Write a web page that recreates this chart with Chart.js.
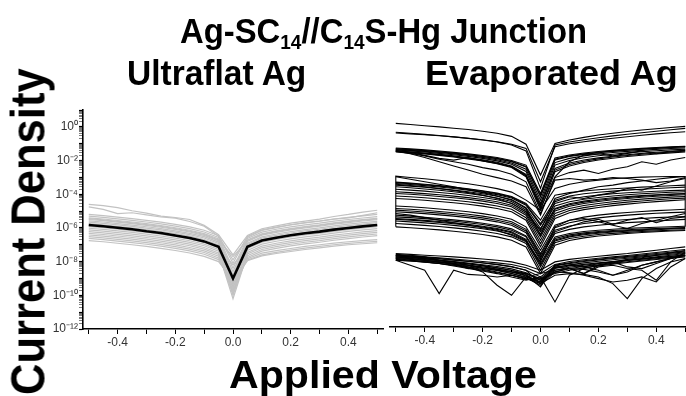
<!DOCTYPE html>
<html>
<head>
<meta charset="utf-8">
<script src="https://cdn.jsdelivr.net/npm/chart.js"></script>
<style>
  html, body { margin: 0; padding: 0; width: 686px; height: 396px; overflow: hidden; background: #fff; }
  canvas { position: absolute; left: 0; top: 0; }
  .lbl {
    position: absolute; left: 0; top: 0;
    font-family: 'Liberation Sans', Arial, Helvetica, sans-serif;
    font-weight: bold; color: #000; white-space: nowrap; line-height: 1;
    transform-origin: 0 0;
  }
  .lbl sub { font-size: 0.58em; vertical-align: -0.3em; line-height: 0; }
</style>
</head>
<body>
<canvas id="flat" width="686" height="396"></canvas>
<canvas id="evap" width="720" height="396"></canvas>

<div class="lbl" id="mainTitle">Ag-SC<sub>14</sub>//C<sub>14</sub>S-Hg Junction</div>
<div class="lbl" id="flatTitle">Ultraflat Ag</div>
<div class="lbl" id="evapTitle">Evaporated Ag</div>
<div class="lbl" id="xTitle">Applied Voltage</div>
<div class="lbl" id="yTitle">Current Density</div>

<script>
const FONT = "'Liberation Sans', Arial, Helvetica, sans-serif";

// Bias voltages (V) of every J(V) sweep
const voltages = [-0.5,-0.45,-0.4,-0.35,-0.3,-0.25,-0.2,-0.15,-0.1,-0.05,0,0.05,0.1,0.15,0.2,0.25,0.3,0.35,0.4,0.45,0.5];

// Axis ticks
const xTickValues = [-0.5,-0.4,-0.3,-0.2,-0.1,0,0.1,0.2,0.3,0.4,0.5];
const xTickLabels = ['', '-0.4', '', '-0.2', '', '0.0', '', '0.2', '', '0.4', ''];
const decadeExponents = [-12,-11,-10,-9,-8,-7,-6,-5,-4,-3,-2,-1,0,1];
const decadeLabels = ['10\u207B\u00B9\u00B2','','10\u207B\u00B9\u2070','','10\u207B\u2078','','10\u207B\u2076','','10\u207B\u2074','','10\u207B\u00B2','','10\u2070',''];
const minorMultipliers = [2,3,4,5,6,7,8,9];

// Ultraflat Ag: log10 of current density for each junction
const ultraflatTraces = [
  [-4.6,-4.68,-4.8,-4.98,-5.12,-5.3,-5.38,-5.5,-5.85,-6.4,-7.6,-6.45,-6.05,-5.88,-5.72,-5.6,-5.48,-5.32,-5.2,-5.06,-4.95],
  [-4.75,-4.9,-5.15,-5.1,-5.22,-5.35,-5.42,-5.62,-5.9,-6.5,-7.9,-6.55,-6.15,-5.98,-5.82,-5.7,-5.6,-5.48,-5.4,-5.25,-5.1],
  [-5.2,-5.27,-5.36,-5.45,-5.55,-5.66,-5.79,-5.94,-6.14,-6.46,-8.1,-6.5,-6.12,-5.95,-5.81,-5.69,-5.59,-5.47,-5.37,-5.28,-5.2],
  [-5.3,-5.37,-5.46,-5.55,-5.65,-5.76,-5.89,-6.04,-6.24,-6.56,-8.4,-6.62,-6.25,-6.08,-5.94,-5.82,-5.72,-5.6,-5.5,-5.41,-5.33],
  [-5.4,-5.47,-5.56,-5.65,-5.75,-5.86,-5.99,-6.14,-6.34,-6.66,-8.6,-6.72,-6.35,-6.18,-6.04,-5.92,-5.82,-5.7,-5.6,-5.51,-5.43],
  [-5.45,-5.52,-5.61,-5.7,-5.8,-5.91,-6.04,-6.19,-6.39,-6.71,-7.7,-6.75,-6.38,-6.21,-6.07,-5.95,-5.85,-5.73,-5.63,-5.54,-5.46],
  [-5.5,-5.57,-5.66,-5.75,-5.85,-5.96,-6.09,-6.24,-6.44,-6.76,-8.8,-6.8,-6.43,-6.26,-6.12,-6.0,-5.9,-5.78,-5.68,-5.59,-5.51],
  [-5.58,-5.65,-5.74,-5.83,-5.93,-6.04,-6.17,-6.32,-6.52,-6.84,-9.0,-6.9,-6.53,-6.36,-6.22,-6.1,-6.0,-5.88,-5.78,-5.69,-5.61],
  [-5.66,-5.73,-5.82,-5.91,-6.01,-6.12,-6.25,-6.4,-6.6,-6.92,-9.2,-6.98,-6.61,-6.44,-6.3,-6.18,-6.08,-5.96,-5.86,-5.77,-5.69],
  [-5.75,-5.82,-5.91,-6.0,-6.1,-6.21,-6.34,-6.49,-6.69,-7.01,-9.4,-7.06,-6.69,-6.52,-6.38,-6.26,-6.16,-6.04,-5.94,-5.85,-5.77],
  [-5.85,-5.92,-6.01,-6.1,-6.2,-6.31,-6.44,-6.59,-6.79,-7.11,-8.2,-7.15,-6.78,-6.61,-6.47,-6.35,-6.25,-6.13,-6.03,-5.94,-5.86],
  [-5.92,-5.99,-6.08,-6.17,-6.27,-6.38,-6.51,-6.66,-6.86,-7.18,-9.6,-7.22,-6.85,-6.68,-6.54,-6.42,-6.32,-6.2,-6.1,-6.01,-5.93],
  [-6.02,-6.09,-6.18,-6.27,-6.37,-6.48,-6.61,-6.76,-6.96,-7.28,-9.8,-7.33,-6.96,-6.79,-6.65,-6.53,-6.43,-6.31,-6.21,-6.12,-6.04],
  [-6.12,-6.19,-6.28,-6.37,-6.47,-6.58,-6.71,-6.86,-7.06,-7.38,-10.0,-7.45,-7.08,-6.91,-6.77,-6.65,-6.55,-6.43,-6.33,-6.24,-6.16],
  [-6.22,-6.29,-6.38,-6.47,-6.57,-6.68,-6.81,-6.96,-7.16,-7.48,-10.2,-7.55,-7.18,-7.01,-6.87,-6.75,-6.65,-6.53,-6.43,-6.34,-6.26],
  [-6.32,-6.39,-6.48,-6.57,-6.67,-6.78,-6.91,-7.06,-7.26,-7.58,-9.9,-7.65,-7.28,-7.11,-6.97,-6.85,-6.75,-6.63,-6.53,-6.44,-6.36],
  [-6.42,-6.49,-6.58,-6.67,-6.77,-6.88,-7.01,-7.16,-7.36,-7.68,-9.7,-7.75,-7.38,-7.21,-7.07,-6.95,-6.85,-6.73,-6.63,-6.54,-6.46],
  [-6.52,-6.59,-6.68,-6.77,-6.87,-6.98,-7.11,-7.26,-7.46,-7.78,-9.5,-7.83,-7.5,-7.35,-7.22,-7.1,-7.0,-6.9,-6.82,-6.75,-6.7],
  [-6.62,-6.69,-6.78,-6.87,-6.97,-7.08,-7.21,-7.36,-7.56,-7.88,-9.3,-7.9,-7.6,-7.45,-7.32,-7.2,-7.1,-7.0,-6.92,-6.85,-6.8],
  [-6.75,-6.82,-6.91,-7.0,-7.1,-7.21,-7.34,-7.49,-7.69,-8.0,-9.1,-7.95,-7.66,-7.52,-7.4,-7.28,-7.18,-7.08,-7.0,-6.94,-6.88]
];

// Ultraflat Ag: log-average current density
const ultraflatMean = [-5.83,-5.9,-5.99,-6.08,-6.2,-6.3,-6.45,-6.6,-6.8,-7.12,-9.0,-7.12,-6.75,-6.58,-6.44,-6.32,-6.22,-6.1,-6.0,-5.91,-5.83];

// Evaporated Ag: log10 of current density for each junction
const evaporatedTraces = [
  [0.2,0.13,0.06,-0.01,-0.09,-0.17,-0.27,-0.39,-0.58,-1.05,-2.9,-1.0,-0.8,-0.64,-0.5,-0.39,-0.29,-0.2,-0.12,-0.05,0.02],
  [-0.38,-0.43,-0.48,-0.54,-0.61,-0.69,-0.78,-0.9,-1.05,-1.3,-3.3,-1.2,-1.02,-0.9,-0.79,-0.69,-0.6,-0.51,-0.43,-0.36,-0.3],
  [-0.33,-0.39,-0.46,-0.53,-0.61,-0.7,-0.8,-0.92,-1.1,-1.45,-3.7,-1.1,-0.92,-0.78,-0.66,-0.55,-0.45,-0.36,-0.27,-0.18,-0.1],
  [-1.28,-1.33,-1.39,-1.46,-1.54,-1.63,-1.73,-1.85,-2.02,-2.3,-4.0,-1.88,-1.7,-1.58,-1.49,-1.42,-1.36,-1.3,-1.25,-1.21,-1.17],
  [-1.32,-1.37,-1.43,-1.5,-1.58,-1.67,-1.77,-1.9,-2.07,-2.38,-4.1,-1.95,-1.75,-1.63,-1.53,-1.45,-1.39,-1.33,-1.28,-1.24,-1.19],
  [-1.33,-1.38,-1.44,-1.51,-1.59,-1.68,-1.79,-1.92,-2.1,-2.42,-4.2,-2.0,-1.79,-1.66,-1.56,-1.48,-1.41,-1.35,-1.3,-1.25,-1.2],
  [-1.37,-1.42,-1.48,-1.55,-1.63,-1.73,-1.84,-1.98,-2.17,-2.55,-4.4,-2.15,-1.9,-1.75,-1.64,-1.55,-1.48,-1.42,-1.36,-1.31,-1.27],
  [-1.4,-1.45,-1.52,-1.6,-1.68,-1.78,-1.9,-2.05,-2.25,-2.68,-4.6,-2.3,-2.02,-1.86,-1.74,-1.65,-1.57,-1.5,-1.44,-1.39,-1.35],
  [-1.45,-1.51,-1.58,-1.66,-1.75,-1.86,-1.98,-2.13,-2.35,-2.85,-4.8,-2.5,-2.18,-2.0,-1.87,-1.77,-1.68,-1.6,-1.53,-1.47,-1.42],
  [-1.48,-1.53,-1.6,-1.69,-1.79,-1.9,-2.02,-2.17,-2.4,-2.95,-4.7,-2.6,-2.27,-2.07,-1.93,-1.82,-1.73,-1.65,-1.58,-1.52,-1.47],
  [-1.5,-1.56,-1.63,-1.72,-1.82,-1.93,-2.06,-2.22,-2.45,-3.0,-5.0,-2.7,-2.35,-2.15,-2.0,-1.89,-1.79,-1.71,-1.64,-1.57,-1.52],
  [-1.42,-1.55,-1.72,-1.9,-2.0,-1.85,-2.05,-2.2,-2.4,-2.9,-4.9,-3.0,-2.1,-1.7,-1.62,-1.75,-1.6,-1.45,-1.62,-1.5,-1.4],
  [-1.45,-1.62,-1.85,-2.1,-2.35,-2.6,-2.85,-3.05,-3.25,-3.6,-5.3,-3.05,-2.75,-2.6,-2.8,-2.55,-2.4,-2.1,-2.25,-2.0,-1.85],
  [-1.5,-1.6,-1.75,-1.95,-2.1,-2.25,-2.45,-2.6,-2.85,-3.3,-5.2,-3.2,-3.1,-3.2,-3.15,-3.05,-3.1,-3.2,-3.35,-3.25,-3.05],
  [-3.32,-3.38,-3.45,-3.53,-3.62,-3.72,-3.84,-3.98,-4.18,-4.6,-5.6,-4.1,-3.95,-3.85,-3.78,-3.72,-3.67,-3.62,-3.58,-3.54,-3.5],
  [-3.35,-3.41,-3.48,-3.56,-3.65,-3.75,-3.87,-4.02,-4.22,-4.65,-5.8,-4.4,-4.15,-4.02,-3.93,-3.86,-3.8,-3.75,-3.7,-3.66,-3.62],
  [-3.4,-3.46,-3.53,-3.61,-3.7,-3.8,-3.92,-4.07,-4.27,-4.7,-5.9,-4.6,-4.35,-4.2,-4.1,-4.02,-3.96,-3.91,-3.87,-3.83,-3.8],
  [-3.45,-3.52,-3.6,-3.7,-3.82,-3.95,-4.1,-4.3,-4.6,-5.1,-6.2,-4.3,-4.0,-3.8,-3.6,-3.5,-3.35,-3.25,-3.15,-3.05,-2.98],
  [-3.5,-3.56,-3.63,-3.71,-3.8,-3.9,-4.02,-4.17,-4.37,-4.85,-6.1,-4.75,-4.5,-4.35,-4.24,-4.15,-4.08,-4.02,-3.97,-3.93,-3.9],
  [-3.6,-3.66,-3.73,-3.81,-3.9,-4.0,-4.12,-4.27,-4.48,-5.0,-6.3,-4.9,-4.62,-4.46,-4.35,-4.26,-4.19,-4.13,-4.08,-4.03,-4.0],
  [-3.75,-3.8,-3.86,-3.94,-4.02,-4.12,-4.24,-4.38,-4.58,-5.1,-6.45,-4.95,-4.68,-4.52,-4.41,-4.32,-4.24,-4.17,-4.11,-4.06,-4.02],
  [-3.9,-3.95,-4.01,-4.08,-4.16,-4.25,-4.36,-4.5,-4.7,-5.2,-6.6,-5.05,-4.77,-4.6,-4.48,-4.38,-4.3,-4.23,-4.17,-4.12,-4.08],
  [-4.0,-4.05,-4.11,-4.18,-4.26,-4.35,-4.46,-4.6,-4.8,-5.3,-6.8,-5.2,-4.9,-4.72,-4.6,-4.5,-4.41,-4.34,-4.28,-4.22,-4.18],
  [-4.15,-4.2,-4.26,-4.33,-4.41,-4.5,-4.61,-4.75,-4.95,-5.45,-7.0,-5.35,-5.02,-4.85,-4.72,-4.61,-4.52,-4.45,-4.38,-4.32,-4.28],
  [-4.3,-4.35,-4.41,-4.48,-4.56,-4.65,-4.76,-4.9,-5.1,-5.6,-7.2,-5.5,-5.15,-4.97,-4.84,-4.73,-4.64,-4.56,-4.49,-4.43,-4.38],
  [-3.0,-3.15,-3.3,-3.45,-3.6,-3.78,-3.95,-4.15,-4.4,-4.9,-6.5,-4.5,-4.2,-4.3,-4.1,-3.95,-3.7,-3.8,-3.55,-3.3,-3.1],
  [-4.75,-4.8,-4.86,-4.93,-5.01,-5.1,-5.21,-5.35,-5.55,-6.0,-7.4,-5.9,-5.6,-5.42,-5.3,-5.21,-5.14,-5.08,-5.03,-4.99,-4.95],
  [-4.9,-4.95,-5.01,-5.08,-5.16,-5.25,-5.36,-5.5,-5.7,-6.15,-7.6,-6.05,-5.75,-5.58,-5.46,-5.37,-5.3,-5.24,-5.19,-5.15,-5.12],
  [-5.0,-5.05,-5.11,-5.18,-5.26,-5.35,-5.46,-5.6,-5.8,-6.25,-7.7,-6.2,-5.95,-5.8,-5.7,-5.62,-5.56,-5.5,-5.45,-5.41,-5.38],
  [-5.1,-5.15,-5.21,-5.28,-5.36,-5.45,-5.56,-5.7,-5.9,-6.35,-7.8,-6.4,-6.15,-6.0,-5.9,-5.82,-5.75,-5.7,-5.65,-5.6,-5.55],
  [-5.4,-5.45,-5.51,-5.58,-5.66,-5.75,-5.86,-6.0,-6.2,-6.6,-8.0,-6.6,-6.4,-6.28,-6.2,-6.14,-6.09,-6.05,-6.02,-5.99,-5.96],
  [-5.5,-5.55,-5.61,-5.68,-5.76,-5.85,-5.96,-6.1,-6.3,-6.75,-8.2,-6.7,-6.48,-6.36,-6.28,-6.22,-6.17,-6.13,-6.1,-6.07,-6.04],
  [-5.55,-5.6,-5.66,-5.73,-5.81,-5.9,-6.01,-6.15,-6.35,-6.8,-8.3,-6.78,-6.55,-6.42,-6.33,-6.27,-6.22,-6.17,-6.13,-6.1,-6.07],
  [-5.65,-5.7,-5.76,-5.83,-5.91,-6.0,-6.11,-6.25,-6.45,-6.85,-8.4,-6.85,-6.6,-6.47,-6.38,-6.31,-6.26,-6.21,-6.17,-6.13,-6.1],
  [-5.8,-5.85,-5.91,-5.98,-6.06,-6.15,-6.26,-6.4,-6.6,-7.0,-8.6,-6.95,-6.7,-6.56,-6.46,-6.39,-6.33,-6.28,-6.24,-6.2,-6.17],
  [-6.0,-6.05,-6.11,-6.18,-6.26,-6.35,-6.46,-6.6,-6.8,-7.2,-8.8,-7.1,-6.82,-6.66,-6.55,-6.47,-6.4,-6.34,-6.29,-6.25,-6.22],
  [-5.2,-5.3,-5.45,-5.6,-5.75,-5.9,-6.05,-6.2,-6.5,-6.9,-8.1,-6.0,-5.6,-5.5,-5.7,-5.9,-6.1,-5.8,-5.6,-5.4,-5.2],
  [-5.3,-5.36,-5.43,-5.5,-5.58,-5.67,-5.78,-5.92,-6.12,-6.55,-7.9,-6.3,-6.0,-5.7,-5.55,-5.85,-5.6,-5.45,-5.75,-5.5,-5.4],
  [-7.6,-7.65,-7.7,-7.75,-7.8,-7.86,-7.93,-8.0,-8.1,-8.3,-8.6,-8.1,-7.95,-7.85,-7.76,-7.68,-7.6,-7.5,-7.4,-7.3,-7.2],
  [-7.7,-7.74,-7.8,-7.86,-7.93,-8.0,-8.08,-8.16,-8.26,-8.45,-8.8,-8.25,-8.08,-7.97,-7.88,-7.8,-7.72,-7.63,-7.54,-7.45,-7.36],
  [-7.7,-7.76,-7.83,-7.9,-7.98,-8.06,-8.15,-8.25,-8.38,-8.6,-9.4,-8.3,-8.15,-8.03,-7.94,-7.85,-7.77,-7.69,-7.6,-7.52,-7.42],
  [-7.75,-7.8,-7.86,-7.93,-8.0,-8.08,-8.17,-8.27,-8.4,-8.6,-9.0,-8.35,-8.2,-8.08,-7.98,-7.9,-7.82,-7.74,-7.66,-7.58,-7.5],
  [-7.8,-7.85,-7.92,-8.0,-8.08,-8.17,-8.27,-8.38,-8.52,-8.75,-9.2,-8.45,-8.28,-8.16,-8.06,-7.97,-7.88,-7.8,-7.72,-7.64,-7.55],
  [-7.85,-7.9,-7.96,-8.03,-8.12,-8.22,-8.33,-8.46,-8.62,-8.85,-9.4,-8.5,-8.35,-8.25,-8.16,-8.08,-8.0,-7.92,-7.84,-7.76,-7.68],
  [-7.9,-7.95,-8.02,-8.1,-8.19,-8.29,-8.4,-8.53,-8.7,-8.95,-9.3,-8.6,-8.42,-8.3,-8.2,-8.11,-8.02,-7.94,-7.86,-7.78,-7.7],
  [-7.95,-8.0,-8.06,-8.14,-8.24,-8.35,-8.48,-8.62,-8.8,-9.05,-9.5,-8.7,-8.5,-8.38,-8.28,-8.18,-8.09,-8.0,-7.91,-7.83,-7.75],
  [-8.0,-8.05,-8.12,-8.2,-8.3,-8.42,-8.55,-8.7,-8.88,-9.15,-9.1,-8.8,-8.6,-8.46,-8.34,-8.24,-8.14,-8.05,-7.96,-7.88,-7.8],
  [-8.0,-8.3,-8.6,-10.0,-8.6,-8.85,-8.9,-9.0,-8.9,-9.1,-9.3,-8.7,-8.5,-8.55,-8.7,-8.9,-8.6,-8.3,-8.1,-7.9,-7.7],
  [-7.8,-7.9,-8.0,-8.1,-8.25,-8.4,-8.7,-9.5,-10.1,-9.0,-9.3,-8.4,-8.3,-8.4,-8.6,-8.9,-8.7,-8.3,-8.1,-7.9,-7.7],
  [-7.9,-8.0,-8.1,-8.2,-8.35,-8.5,-8.65,-8.8,-9.0,-9.2,-9.0,-10.5,-8.9,-8.5,-8.3,-8.2,-8.0,-7.9,-7.8,-7.7,-7.6],
  [-8.0,-8.05,-8.1,-8.2,-8.3,-8.45,-8.6,-8.75,-8.9,-9.1,-9.4,-8.9,-8.8,-8.85,-9.0,-9.4,-10.3,-9.1,-8.5,-8.1,-7.9],
  [-7.7,-7.8,-7.9,-8.0,-8.1,-8.3,-8.5,-8.6,-8.8,-9.0,-8.8,-8.6,-8.5,-8.8,-8.4,-8.3,-8.5,-8.6,-9.2,-8.1,-7.5],
  [-7.65,-7.7,-7.8,-8.0,-8.2,-8.5,-8.3,-8.6,-8.7,-8.9,-9.6,-8.3,-8.2,-8.4,-8.2,-8.1,-8.4,-8.5,-8.2,-7.9,-7.6],
  [-7.85,-7.9,-8.0,-8.1,-8.2,-8.3,-8.45,-8.55,-8.7,-8.8,-9.2,-8.7,-8.75,-8.9,-9.1,-9.3,-9.2,-9.0,-9.3,-8.4,-7.9],
  [-7.75,-7.82,-7.9,-8.0,-8.1,-8.2,-8.32,-8.45,-8.6,-8.8,-9.1,-8.4,-8.5,-8.8,-8.3,-8.1,-7.95,-7.85,-7.7,-7.55,-7.45]
];

// Evaporated Ag: one junction recorded with a repeated first and last bias point
const loopVoltages = [-0.5,-0.5,-0.45,-0.4,-0.35,-0.3,-0.25,-0.2,-0.15,-0.1,-0.05,0,0.05,0.1,0.15,0.2,0.25,0.3,0.35,0.4,0.45,0.5,0.5];
const loopLogJ = [-6.0,-2.96,-3.04,-3.12,-3.21,-3.31,-3.42,-3.55,-3.71,-3.92,-4.4,-5.0,-3.7,-3.45,-3.3,-3.2,-3.12,-3.06,-3.02,-3.0,-2.98,-2.98,-6.0];

function toPoints(xs, logs) {
  return xs.map((v, i) => ({ x: v, y: Math.pow(10, logs[i]) }));
}

function xAxis() {
  return {
    type: 'linear', min: -0.52, max: 0.52,
    afterBuildTicks: s => { s.ticks = xTickValues.map((v, i) => ({ value: v, text: xTickLabels[i] })); },
    afterFit: s => { s.height = 22; },
    ticks: {
      autoSkip: false, maxRotation: 0, padding: 1,
      color: '#333', font: { family: FONT, size: 12 },
      callback: (v, i, ticks) => ticks[i].text
    },
    grid: { drawOnChartArea: false, drawTicks: true, tickLength: 5, tickColor: '#000', tickWidth: 1 },
    border: { display: true, color: '#000', width: 1.6 }
  };
}

function yTicks() {
  const list = [];
  decadeExponents.forEach((e, i) => {
    list.push({ value: Math.pow(10, e), text: decadeLabels[i], major: true });
    if (e < 1) minorMultipliers.forEach(m => list.push({ value: m * Math.pow(10, e), text: '', major: false }));
  });
  return list;
}

const baseOptions = {
  responsive: false, animation: false, devicePixelRatio: 1,
  events: [],
  plugins: { legend: { display: false }, title: { display: false }, tooltip: { enabled: false } },
  elements: { point: { radius: 0 }, line: { tension: 0, fill: false } }
};

// Left panel: ultraflat silver
new Chart(document.getElementById('flat'), {
  type: 'line',
  data: {
    datasets: [
      { data: toPoints(voltages, ultraflatMean), borderColor: '#000', borderWidth: 2.6, order: 0 }
    ].concat(ultraflatTraces.map(t => ({ data: toPoints(voltages, t), borderColor: '#c2c2c2', borderWidth: 1.2, order: 1 })))
  },
  options: Object.assign({}, baseOptions, {
    layout: { padding: { left: 40, top: 110, right: 303, bottom: 45 } },
    scales: {
      x: xAxis(),
      y: {
        type: 'logarithmic', min: 1e-12, max: 10,
        afterBuildTicks: s => { s.ticks = yTicks(); },
        afterFit: s => { s.width = 43; },
        ticks: {
          autoSkip: false, padding: 1, color: '#333',
          font: { family: FONT, size: 12 },
          callback: (v, i, ticks) => ticks[i].text
        },
        grid: {
          drawOnChartArea: false, drawTicks: true, tickLength: 4,
          tickColor: ctx => (ctx.tick && ctx.tick.major) ? '#000' : '#444',
          tickWidth: ctx => (ctx.tick && ctx.tick.major) ? 1.2 : 0.7
        },
        border: { display: true, color: '#000', width: 1.6 }
      }
    }
  })
});

// Right panel: evaporated silver
new Chart(document.getElementById('evap'), {
  type: 'line',
  data: {
    datasets: evaporatedTraces.map(t => ({ data: toPoints(voltages, t), borderColor: '#000', borderWidth: 1.1 }))
      .concat([{ data: toPoints(loopVoltages, loopLogJ), borderColor: '#000', borderWidth: 1.1 }])
  },
  options: Object.assign({}, baseOptions, {
    layout: { padding: { left: 390, top: 110, right: 29, bottom: 47 } },
    scales: {
      x: xAxis(),
      y: { type: 'logarithmic', min: 1e-12, max: 10, display: false }
    }
  })
});

// Headings and axis titles, fitted to their widths
function placeText(id, left, baseline, size, width) {
  const el = document.getElementById(id);
  el.style.fontSize = size + 'px';
  const s = width / el.offsetWidth;
  const top = baseline - 0.8465 * size;
  el.style.transform = `translate(${left}px, ${top}px) scaleX(${s})`;
}
function placeVertical(id, baselineX, bottom, size, length) {
  const el = document.getElementById(id);
  el.style.fontSize = size + 'px';
  const s = length / el.offsetWidth;
  const x0 = baselineX - 0.8465 * size;
  el.style.transform = `translate(${x0}px, ${bottom}px) rotate(-90deg) scaleX(${s})`;
}
placeText('mainTitle', 180, 43, 35, 407);
placeText('flatTitle', 127, 85, 35, 179);
placeText('evapTitle', 425, 85, 35, 253);
placeText('xTitle', 229, 388, 39, 308);
placeVertical('yTitle', 45, 395, 49, 327);
</script>
</body>
</html>
